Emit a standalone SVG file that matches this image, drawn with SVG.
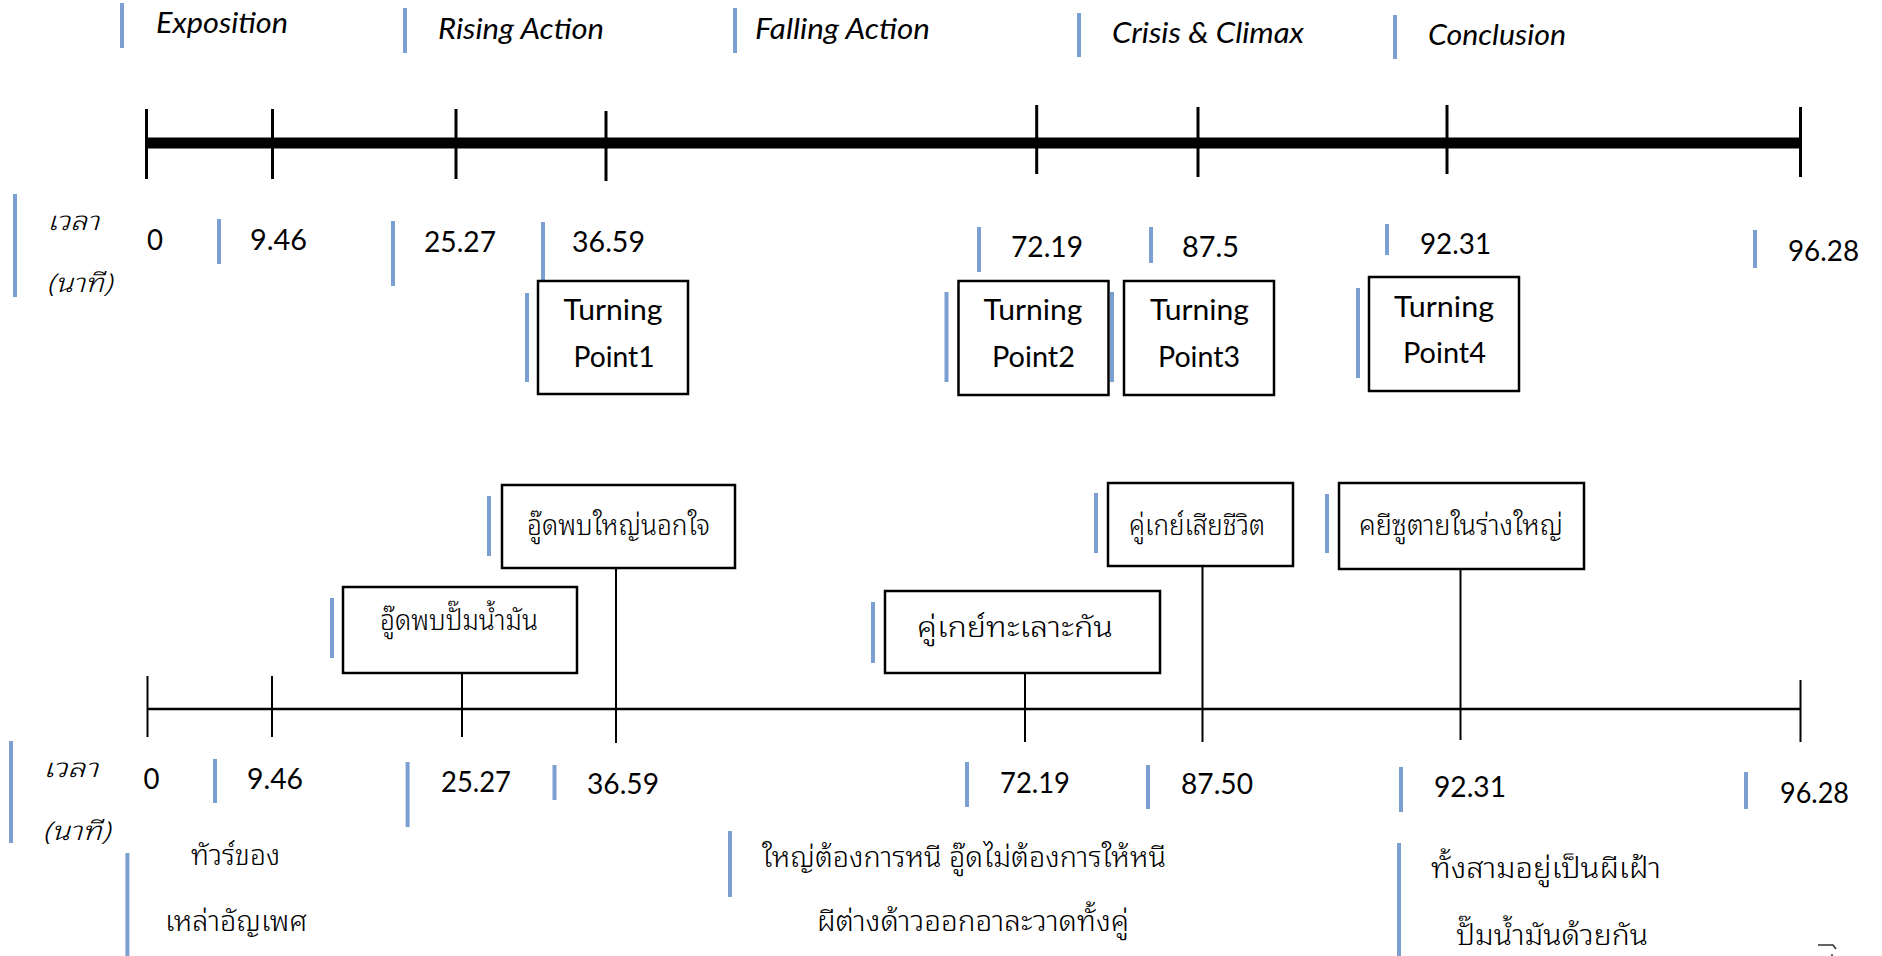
<svg xmlns="http://www.w3.org/2000/svg" width="1882" height="956" viewBox="0 0 1882 956">
  <style>
    .bg { fill: #ffffff; }
    .bar { stroke: #7b9fd0; stroke-width: 4; fill: none; }
    .axis-main { stroke: #000; stroke-width: 11; fill: none; }
    .tick-main { stroke: #000; stroke-width: 3; fill: none; }
    .axis-sub { stroke: #000; stroke-width: 2.6; fill: none; }
    .tick-sub { stroke: #000; stroke-width: 2; fill: none; }
    .box { fill: #fff; stroke: #000; stroke-width: 2.5; }
    .phase { font-family: Lato, "Liberation Sans", sans-serif; font-style: italic; font-size: 28px; fill: #000; }
    .num { font-family: Lato, "Liberation Sans", sans-serif; font-size: 28px; fill: #000; }
    .tp { font-family: Lato, "Liberation Sans", sans-serif; font-size: 28px; fill: #000; text-anchor: middle; }
    .th { font-family: "Noto Sans Thai Looped", "Noto Sans Thai", "Noto Sans", "DejaVu Sans", sans-serif; font-size: 28px; font-weight: 300; fill: #000; }
    .thi { font-family: "Noto Sans Thai Looped", "Noto Sans Thai", "Noto Sans", "DejaVu Sans", sans-serif; font-size: 26px; font-weight: 300; font-style: italic; fill: #000; }
  </style>

  <rect class="bg" x="0" y="0" width="1882" height="956"/>

  <!-- story phases along the top -->
  <g id="phases">
    <line class="bar" x1="122" y1="3" x2="122" y2="48"/>
    <text class="phase" x="156" y="33" textLength="132" lengthAdjust="spacingAndGlyphs">Exposition</text>
    <line class="bar" x1="405" y1="8" x2="405" y2="53"/>
    <text class="phase" x="438" y="39" textLength="166" lengthAdjust="spacingAndGlyphs">Rising Action</text>
    <line class="bar" x1="735" y1="8" x2="735" y2="53"/>
    <text class="phase" x="755" y="39" textLength="175" lengthAdjust="spacingAndGlyphs">Falling Action</text>
    <line class="bar" x1="1079" y1="13" x2="1079" y2="57"/>
    <text class="phase" x="1112" y="43" textLength="192" lengthAdjust="spacingAndGlyphs">Crisis &amp; Climax</text>
    <line class="bar" x1="1395" y1="15" x2="1395" y2="59"/>
    <text class="phase" x="1428" y="45" textLength="138" lengthAdjust="spacingAndGlyphs">Conclusion</text>
  </g>

  <!-- upper timeline -->
  <g id="timeline-top">
    <line class="axis-main" x1="146" y1="143" x2="1801" y2="143"/>
    <line class="tick-main" x1="146.5" y1="109" x2="146.5" y2="179"/>
    <line class="tick-main" x1="272.5" y1="109" x2="272.5" y2="179"/>
    <line class="tick-main" x1="456" y1="109" x2="456" y2="179"/>
    <line class="tick-main" x1="606" y1="111" x2="606" y2="181"/>
    <line class="tick-main" x1="1036.7" y1="105" x2="1036.7" y2="174"/>
    <line class="tick-main" x1="1198" y1="107" x2="1198" y2="177"/>
    <line class="tick-main" x1="1447" y1="105" x2="1447" y2="174"/>
    <line class="tick-main" x1="1800.5" y1="107" x2="1800.5" y2="177"/>
  </g>

  <!-- upper time labels (minutes) -->
  <g id="times-top">
    <line class="bar" x1="15" y1="194" x2="15" y2="297"/>
    <text class="thi" x="47" y="230" textLength="52" lengthAdjust="spacingAndGlyphs">เวลา</text>
    <text class="thi" x="47" y="292" textLength="65" lengthAdjust="spacingAndGlyphs">(นาที)</text>
    <text class="num" x="147" y="250" textLength="16" lengthAdjust="spacingAndGlyphs">0</text>
    <line class="bar" x1="219" y1="219" x2="219" y2="264"/>
    <text class="num" x="250" y="250" textLength="57" lengthAdjust="spacingAndGlyphs">9.46</text>
    <line class="bar" x1="393" y1="221" x2="393" y2="286"/>
    <text class="num" x="424" y="252" textLength="72" lengthAdjust="spacingAndGlyphs">25.27</text>
    <line class="bar" x1="543" y1="222" x2="543" y2="280"/>
    <text class="num" x="572" y="252" textLength="73" lengthAdjust="spacingAndGlyphs">36.59</text>
    <line class="bar" x1="979" y1="227" x2="979" y2="272"/>
    <text class="num" x="1011" y="257" textLength="72" lengthAdjust="spacingAndGlyphs">72.19</text>
    <line class="bar" x1="1151" y1="227" x2="1151" y2="263"/>
    <text class="num" x="1182" y="257" textLength="57" lengthAdjust="spacingAndGlyphs">87.5</text>
    <line class="bar" x1="1387" y1="224" x2="1387" y2="255"/>
    <text class="num" x="1420" y="254" textLength="71" lengthAdjust="spacingAndGlyphs">92.31</text>
    <line class="bar" x1="1755" y1="230" x2="1755" y2="268"/>
    <text class="num" x="1788" y="261" textLength="71" lengthAdjust="spacingAndGlyphs">96.28</text>
  </g>

  <!-- turning points -->
  <g id="turning-point-1">
    <line class="bar" x1="527" y1="293" x2="527" y2="382"/>
    <rect class="box" x="538" y="281" width="150" height="113"/>
    <text class="tp" x="613" y="320" textLength="99" lengthAdjust="spacingAndGlyphs">Turning</text>
    <text class="tp" x="614" y="367" textLength="81" lengthAdjust="spacingAndGlyphs">Point1</text>
  </g>
  <g id="turning-point-2">
    <line class="bar" x1="946.5" y1="292" x2="946.5" y2="382"/>
    <rect class="box" x="958.5" y="281" width="150" height="114"/>
    <text class="tp" x="1033" y="320" textLength="99" lengthAdjust="spacingAndGlyphs">Turning</text>
    <text class="tp" x="1033.5" y="367" textLength="83" lengthAdjust="spacingAndGlyphs">Point2</text>
  </g>
  <g id="turning-point-3">
    <line class="bar" x1="1112" y1="292" x2="1112" y2="382"/>
    <rect class="box" x="1124" y="281" width="150" height="114"/>
    <text class="tp" x="1199.5" y="320" textLength="99" lengthAdjust="spacingAndGlyphs">Turning</text>
    <text class="tp" x="1199" y="367" textLength="82" lengthAdjust="spacingAndGlyphs">Point3</text>
  </g>
  <g id="turning-point-4">
    <line class="bar" x1="1358" y1="288" x2="1358" y2="378"/>
    <rect class="box" x="1369" y="277" width="150" height="114"/>
    <text class="tp" x="1444" y="317" textLength="100" lengthAdjust="spacingAndGlyphs">Turning</text>
    <text class="tp" x="1444.5" y="363" textLength="83" lengthAdjust="spacingAndGlyphs">Point4</text>
  </g>

  <!-- lower timeline with event drop lines -->
  <g id="connectors">
    <line class="axis-sub" x1="147.5" y1="709" x2="1801" y2="709"/>
    <line class="tick-sub" x1="147.5" y1="676" x2="147.5" y2="737"/>
    <line class="tick-sub" x1="272" y1="676" x2="272" y2="737"/>
    <line class="tick-sub" x1="462" y1="674" x2="462" y2="737"/>
    <line class="tick-sub" x1="616" y1="568" x2="616" y2="743"/>
    <line class="tick-sub" x1="1025" y1="673" x2="1025" y2="742"/>
    <line class="tick-sub" x1="1202.5" y1="567" x2="1202.5" y2="742"/>
    <line class="tick-sub" x1="1460.5" y1="569" x2="1460.5" y2="740"/>
    <line class="tick-sub" x1="1800.5" y1="680" x2="1800.5" y2="742"/>
  </g>

  <!-- events -->
  <g id="event-oil-pump">
    <line class="bar" x1="332" y1="598" x2="332" y2="658"/>
    <rect class="box" x="343" y="587" width="234" height="86"/>
    <text class="th" x="380" y="630" textLength="158" lengthAdjust="spacingAndGlyphs">อู๊ดพบปั๊มน้ำมัน</text>
  </g>
  <g id="event-cheating">
    <line class="bar" x1="489" y1="496" x2="489" y2="556"/>
    <rect class="box" x="502" y="485" width="233" height="83"/>
    <text class="th" x="527" y="535" textLength="183" lengthAdjust="spacingAndGlyphs">อู๊ดพบใหญ่นอกใจ</text>
  </g>
  <g id="event-quarrel">
    <line class="bar" x1="873" y1="602" x2="873" y2="663"/>
    <rect class="box" x="885" y="591" width="275" height="82"/>
    <text class="th" x="917" y="637" textLength="196" lengthAdjust="spacingAndGlyphs">คู่เกย์ทะเลาะกัน</text>
  </g>
  <g id="event-death">
    <line class="bar" x1="1096" y1="493" x2="1096" y2="553"/>
    <rect class="box" x="1108" y="483" width="185" height="83"/>
    <text class="th" x="1129" y="535" textLength="136" lengthAdjust="spacingAndGlyphs">คู่เกย์เสียชีวิต</text>
  </g>
  <g id="event-possession">
    <line class="bar" x1="1327" y1="494" x2="1327" y2="553"/>
    <rect class="box" x="1339" y="483" width="245" height="86"/>
    <text class="th" x="1359" y="535" textLength="204" lengthAdjust="spacingAndGlyphs">คยีซูตายในร่างใหญ่</text>
  </g>

  <!-- lower time labels (minutes) -->
  <g id="times-bottom">
    <line class="bar" x1="11" y1="741" x2="11" y2="843"/>
    <text class="thi" x="43" y="777" textLength="55" lengthAdjust="spacingAndGlyphs">เวลา</text>
    <text class="thi" x="43" y="840" textLength="67" lengthAdjust="spacingAndGlyphs">(นาที)</text>
    <text class="num" x="143.5" y="789" textLength="16" lengthAdjust="spacingAndGlyphs">0</text>
    <line class="bar" x1="215" y1="759" x2="215" y2="803"/>
    <text class="num" x="247" y="789" textLength="56" lengthAdjust="spacingAndGlyphs">9.46</text>
    <line class="bar" x1="407.6" y1="762" x2="407.6" y2="827"/>
    <text class="num" x="441" y="792" textLength="70" lengthAdjust="spacingAndGlyphs">25.27</text>
    <line class="bar" x1="554.5" y1="765" x2="554.5" y2="800"/>
    <text class="num" x="587" y="794" textLength="72" lengthAdjust="spacingAndGlyphs">36.59</text>
    <line class="bar" x1="967" y1="762" x2="967" y2="807"/>
    <text class="num" x="1000" y="793" textLength="70" lengthAdjust="spacingAndGlyphs">72.19</text>
    <line class="bar" x1="1148" y1="765" x2="1148" y2="809"/>
    <text class="num" x="1181" y="794" textLength="72" lengthAdjust="spacingAndGlyphs">87.50</text>
    <line class="bar" x1="1401" y1="767" x2="1401" y2="812"/>
    <text class="num" x="1434" y="797" textLength="72" lengthAdjust="spacingAndGlyphs">92.31</text>
    <line class="bar" x1="1746" y1="772" x2="1746" y2="809"/>
    <text class="num" x="1780" y="803" textLength="69" lengthAdjust="spacingAndGlyphs">96.28</text>
  </g>

  <!-- phase summaries -->
  <g id="summary-exposition">
    <line class="bar" x1="127.4" y1="853" x2="127.4" y2="956"/>
    <text class="th" x="191" y="865" textLength="89" lengthAdjust="spacingAndGlyphs">ทัวร์ของ</text>
    <text class="th" x="165" y="931" textLength="142" lengthAdjust="spacingAndGlyphs">เหล่าอัญเพศ</text>
  </g>
  <g id="summary-middle">
    <line class="bar" x1="730" y1="831" x2="730" y2="897"/>
    <text class="th" x="762" y="867" textLength="404" lengthAdjust="spacingAndGlyphs">ใหญ่ต้องการหนี อู๊ดไม่ต้องการให้หนี</text>
    <text class="th" x="817" y="931" textLength="312" lengthAdjust="spacingAndGlyphs">ผีต่างด้าวออกอาละวาดทั้งคู่</text>
  </g>
  <g id="summary-conclusion">
    <line class="bar" x1="1399" y1="843" x2="1399" y2="956"/>
    <text class="th" x="1431" y="878" textLength="230" lengthAdjust="spacingAndGlyphs">ทั้งสามอยู่เป็นผีเฝ้า</text>
    <text class="th" x="1456" y="945" textLength="192" lengthAdjust="spacingAndGlyphs">ปั๊มน้ำมันด้วยกัน</text>
  </g>

  <!-- clipped mark at the lower right edge -->
  <g id="edge-mark">
    <path d="M1818 945 H1833 L1836 949" fill="none" stroke="#333" stroke-width="1.6"/>
    <circle cx="1832" cy="955" r="1" fill="#333"/>
  </g>
</svg>
